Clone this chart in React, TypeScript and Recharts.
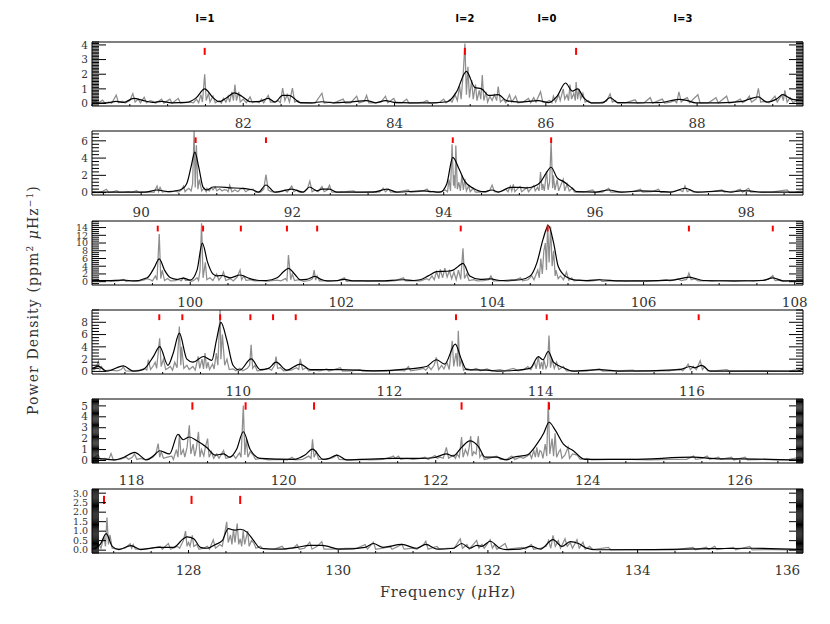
import React from 'react';
import { LineChart, Line, XAxis, YAxis, ReferenceLine } from 'recharts';

type Pt = [number, number];

// ---------------- data: raw spectrum (gray) ----------------
const p1Gray: Pt[] = [[80.00,0.05],[80.05,0.15],[80.08,0.02],[80.14,0.23],[80.17,0.03],[80.22,0.1],[80.26,0.02],[80.32,0.57],[80.35,0.05],[80.40,0.15],[80.44,0.03],[80.50,0.2],[80.54,0.68],[80.57,0.1],[80.61,0.3],[80.64,0.05],[80.69,0.42],[80.72,0.05],[80.77,0.2],[80.80,0.15],[80.84,0.02],[80.92,0.3],[80.95,0.03],[81.03,0.3],[81.06,0.02],[81.14,0.35],[81.17,0.03],[81.25,0.08],[81.30,0.1],[81.34,0.05],[81.38,0.3],[81.41,0.05],[81.44,0.6],[81.46,0.1],[81.49,2.0],[81.51,0.2],[81.54,0.7],[81.56,0.1],[81.60,0.5],[81.63,0.05],[81.68,0.2],[81.71,0.03],[81.74,0.35],[81.77,0.1],[81.80,0.5],[81.82,0.1],[81.85,0.8],[81.87,0.2],[81.89,1.3],[81.91,0.2],[81.94,0.8],[81.96,0.1],[82.00,0.3],[82.04,0.05],[82.09,0.45],[82.12,0.05],[82.17,0.15],[82.21,0.05],[82.24,0.3],[82.27,0.05],[82.33,0.55],[82.36,0.1],[82.41,0.1],[82.46,0.2],[82.49,0.05],[82.52,1.05],[82.55,0.2],[82.58,0.6],[82.61,0.1],[82.65,1.05],[82.68,0.1],[82.72,0.2],[82.76,0.03],[82.85,0.05],[82.95,0.03],[83.04,0.7],[83.07,0.03],[83.15,0.1],[83.20,0.05],[83.32,0.3],[83.35,0.02],[83.42,0.05],[83.50,0.5],[83.53,0.03],[83.60,0.15],[83.63,0.55],[83.66,0.05],[83.75,0.05],[83.82,0.1],[83.88,0.5],[83.91,0.05],[83.99,0.35],[84.02,0.03],[84.10,0.05],[84.16,0.3],[84.19,0.03],[84.30,0.05],[84.38,0.1],[84.43,0.2],[84.46,0.03],[84.55,0.05],[84.60,0.1],[84.65,0.3],[84.68,0.05],[84.73,0.25],[84.76,0.1],[84.80,0.6],[84.83,0.2],[84.86,1.2],[84.88,0.3],[84.91,2.2],[84.93,4.1],[84.95,0.6],[84.97,2.5],[84.99,0.4],[85.02,1.6],[85.04,0.3],[85.07,1.3],[85.09,0.2],[85.12,0.9],[85.14,0.3],[85.16,1.95],[85.18,0.2],[85.21,0.8],[85.23,0.1],[85.26,0.5],[85.29,0.2],[85.32,0.6],[85.35,0.2],[85.37,1.15],[85.40,0.1],[85.44,0.3],[85.47,0.05],[85.52,0.6],[85.55,0.1],[85.60,0.5],[85.63,0.05],[85.70,0.1],[85.77,0.35],[85.80,0.05],[85.84,0.4],[85.87,0.1],[85.93,0.8],[85.96,0.1],[86.00,0.1],[86.05,0.2],[86.08,0.05],[86.10,0.5],[86.13,0.1],[86.17,0.6],[86.19,0.2],[86.23,1.0],[86.25,0.3],[86.28,0.6],[86.30,0.2],[86.32,1.3],[86.34,0.3],[86.37,0.7],[86.39,0.2],[86.40,1.46],[86.42,0.3],[86.44,1.0],[86.46,0.3],[86.49,0.7],[86.52,0.1],[86.56,0.2],[86.60,0.03],[86.70,0.05],[86.80,0.15],[86.85,0.65],[86.88,0.1],[86.92,0.2],[86.95,0.03],[87.05,0.05],[87.18,0.25],[87.21,0.03],[87.30,0.05],[87.38,0.4],[87.41,0.03],[87.54,0.3],[87.57,0.03],[87.65,0.1],[87.70,0.2],[87.73,0.05],[87.76,0.8],[87.79,0.1],[87.83,0.3],[87.87,0.4],[87.90,0.05],[88.01,0.6],[88.04,0.03],[88.15,0.05],[88.25,0.4],[88.28,0.03],[88.39,0.5],[88.42,0.03],[88.50,0.1],[88.57,0.3],[88.60,0.05],[88.65,0.2],[88.69,0.5],[88.72,0.1],[88.78,0.3],[88.81,1.03],[88.84,0.1],[88.90,0.15],[88.95,0.05],[89.03,0.5],[89.06,0.1],[89.12,0.6],[89.14,0.2],[89.16,0.9],[89.19,0.1],[89.23,0.4],[89.27,0.05],[89.37,0.4],[89.40,0.1]];

const p2Gray: Pt[] = [[89.36,0.1],[89.42,0.02],[89.48,0.1],[89.54,0.38],[89.57,0.03],[89.62,0.08],[89.68,0.22],[89.71,0.02],[89.78,0.06],[89.84,0.12],[89.87,0.02],[89.94,0.22],[89.97,0.02],[90.05,0.05],[90.12,0.08],[90.17,0.03],[90.21,0.76],[90.23,0.1],[90.25,0.6],[90.28,0.05],[90.33,0.15],[90.38,0.05],[90.45,0.2],[90.49,0.05],[90.53,0.3],[90.56,0.76],[90.58,0.1],[90.60,0.3],[90.63,0.5],[90.66,0.2],[90.68,1.0],[90.70,7.1],[90.715,0.6],[90.73,5.5],[90.75,0.4],[90.77,1.5],[90.80,0.2],[90.83,0.5],[90.86,0.1],[90.87,0.5],[90.90,0.2],[90.93,0.6],[90.95,0.3],[90.98,0.65],[91.00,0.2],[91.04,0.45],[91.07,0.2],[91.10,0.35],[91.13,0.3],[91.15,0.1],[91.17,0.85],[91.20,0.1],[91.24,0.3],[91.28,0.1],[91.31,0.4],[91.35,0.5],[91.38,0.1],[91.42,0.3],[91.48,0.4],[91.51,0.05],[91.58,0.05],[91.62,0.4],[91.65,2.1],[91.68,0.3],[91.72,0.1],[91.77,0.03],[91.85,0.1],[91.90,0.3],[91.93,0.05],[91.99,0.76],[92.02,0.1],[92.06,0.3],[92.09,0.05],[92.15,0.05],[92.20,0.5],[92.23,1.33],[92.26,0.1],[92.30,0.3],[92.34,0.1],[92.39,0.7],[92.42,0.1],[92.46,0.3],[92.49,0.85],[92.52,0.05],[92.60,0.05],[92.70,0.1],[92.81,0.2],[92.84,0.02],[92.95,0.05],[93.07,0.1],[93.15,0.05],[93.20,0.5],[93.23,0.1],[93.27,0.4],[93.30,0.05],[93.40,0.08],[93.53,0.3],[93.56,0.03],[93.65,0.1],[93.73,0.2],[93.78,0.4],[93.81,0.05],[93.86,0.15],[93.90,0.03],[93.97,0.1],[94.02,0.3],[94.05,0.1],[94.07,1.5],[94.09,0.2],[94.11,5.6],[94.13,0.8],[94.14,2.0],[94.15,0.5],[94.16,5.45],[94.18,0.4],[94.20,1.2],[94.22,0.2],[94.24,2.0],[94.26,0.3],[94.28,1.6],[94.30,0.2],[94.33,0.8],[94.35,0.1],[94.39,0.5],[94.42,0.05],[94.50,0.08],[94.56,0.05],[94.61,0.3],[94.64,0.87],[94.67,0.1],[94.72,0.05],[94.78,0.2],[94.82,0.4],[94.85,0.1],[94.88,0.76],[94.90,0.2],[94.92,0.95],[94.94,0.1],[94.97,0.4],[95.01,0.7],[95.03,0.1],[95.06,0.3],[95.10,0.6],[95.12,0.1],[95.16,0.5],[95.19,0.8],[95.21,0.2],[95.24,0.6],[95.26,0.2],[95.28,2.37],[95.30,0.3],[95.31,1.0],[95.33,0.2],[95.36,2.5],[95.38,0.3],[95.40,1.2],[95.42,5.9],[95.44,0.5],[95.45,2.0],[95.47,0.3],[95.50,1.5],[95.52,0.2],[95.55,0.9],[95.58,1.52],[95.60,0.2],[95.63,1.0],[95.66,0.2],[95.70,0.5],[95.73,0.05],[95.85,0.05],[95.97,0.3],[96.00,0.03],[96.10,0.05],[96.18,0.5],[96.21,0.05],[96.35,0.05],[96.50,0.1],[96.60,0.4],[96.63,0.05],[96.75,0.1],[96.84,0.4],[96.87,0.03],[97.00,0.05],[97.12,0.3],[97.16,0.1],[97.19,0.76],[97.22,0.1],[97.26,0.3],[97.30,0.05],[97.45,0.05],[97.55,0.1],[97.68,0.3],[97.71,0.05],[97.80,0.1],[97.86,0.2],[97.92,0.4],[97.95,0.05],[98.03,0.5],[98.06,0.05],[98.20,0.05],[98.35,0.08],[98.54,0.3],[98.57,0.03],[98.65,0.05],[98.72,0.2],[98.75,0.05]];

const p3Gray: Pt[] = [[98.70,0.2],[98.78,0.5],[98.82,0.1],[98.9,0.3],[98.95,0.1],[99.05,0.2],[99.12,0.6],[99.15,0.1],[99.22,0.2],[99.3,0.1],[99.38,0.4],[99.43,0.8],[99.47,0.5],[99.5,0.2],[99.54,1.5],[99.56,0.4],[99.59,12.3],[99.61,0.8],[99.63,3.0],[99.66,0.3],[99.7,0.8],[99.74,0.2],[99.8,0.3],[99.85,0.6],[99.88,0.2],[99.91,1.0],[99.94,0.3],[99.98,0.4],[100.02,0.1],[100.06,0.5],[100.09,1.0],[100.11,0.3],[100.13,3.0],[100.15,15.1],[100.17,1.0],[100.2,5.0],[100.22,0.5],[100.26,1.0],[100.3,0.3],[100.35,2.0],[100.38,0.4],[100.42,1.5],[100.44,2.5],[100.47,0.3],[100.53,0.8],[100.57,0.2],[100.62,1.2],[100.66,3.0],[100.68,0.5],[100.71,1.5],[100.74,0.3],[100.79,0.5],[100.85,0.2],[100.92,0.3],[101.0,0.1],[101.08,0.3],[101.15,0.4],[101.2,0.2],[101.26,0.8],[101.28,0.3],[101.30,6.9],[101.33,0.5],[101.35,2.0],[101.38,0.3],[101.44,0.5],[101.5,0.1],[101.58,0.3],[101.62,0.8],[101.64,3.0],[101.66,0.4],[101.68,1.5],[101.71,0.2],[101.78,0.3],[101.85,0.1],[101.95,0.2],[102.04,1.0],[102.07,0.1],[102.15,0.2],[102.25,0.3],[102.35,0.1],[102.5,0.2],[102.6,0.1],[102.72,0.3],[102.82,1.0],[102.85,0.2],[102.95,0.3],[103.05,0.2],[103.13,0.8],[103.16,0.4],[103.2,1.5],[103.23,0.5],[103.26,2.6],[103.29,0.8],[103.31,3.2],[103.34,1.0],[103.37,3.5],[103.4,1.2],[103.43,2.8],[103.46,0.8],[103.49,2.5],[103.52,0.5],[103.55,3.0],[103.58,0.6],[103.61,8.66],[103.63,0.8],[103.66,2.0],[103.69,0.3],[103.75,0.5],[103.8,0.2],[103.88,0.3],[103.95,0.5],[103.98,1.5],[104.01,0.2],[104.1,0.3],[104.2,0.1],[104.3,0.4],[104.37,1.0],[104.4,0.2],[104.47,0.5],[104.52,1.5],[104.55,0.5],[104.6,3.0],[104.62,1.0],[104.64,6.0],[104.66,2.0],[104.68,8.0],[104.70,10.0],[104.715,3.0],[104.73,14.9],[104.75,5.0],[104.77,14.3],[104.79,4.0],[104.81,8.0],[104.83,1.5],[104.84,3.0],[104.87,0.8],[104.9,1.5],[104.94,0.5],[104.98,2.5],[105.01,0.4],[105.05,1.0],[105.08,0.2],[105.15,0.4],[105.25,0.1],[105.35,0.3],[105.42,0.6],[105.45,0.1],[105.55,0.2],[105.69,0.3],[105.75,0.05],[105.9,0.2],[106.05,0.1],[106.2,0.3],[106.3,0.5],[106.35,0.2],[106.45,0.7],[106.5,0.3],[106.57,0.6],[106.60,2.2],[106.63,0.5],[106.68,0.7],[106.72,0.2],[106.8,0.3],[106.9,0.1],[107.05,0.3],[107.2,0.1],[107.35,0.3],[107.45,0.1],[107.58,0.4],[107.65,0.6],[107.71,1.6],[107.74,0.3],[107.8,0.4],[107.85,0.1],[107.95,0.3],[108.05,0.1],[108.11,0.2]];

const p4Gray: Pt[] = [[108.07,0.3],[108.10,0.3],[108.13,1.0],[108.15,1.62],[108.17,0.3],[108.19,0.8],[108.22,0.1],[108.3,0.2],[108.4,0.1],[108.45,0.3],[108.48,0.7],[108.51,0.1],[108.6,0.05],[108.7,0.2],[108.76,0.5],[108.79,0.2],[108.81,1.9],[108.84,0.3],[108.88,1.0],[108.90,1.5],[108.92,0.5],[108.96,5.4],[108.98,0.8],[109.01,2.0],[109.04,0.3],[109.07,0.5],[109.1,0.8],[109.13,0.2],[109.16,1.5],[109.19,0.6],[109.22,7.3],[109.24,1.0],[109.25,4.0],[109.28,0.5],[109.32,1.0],[109.35,0.3],[109.4,0.8],[109.43,0.2],[109.47,2.43],[109.49,0.5],[109.52,2.0],[109.54,0.4],[109.56,2.97],[109.58,0.5],[109.6,1.5],[109.62,0.3],[109.66,1.2],[109.68,0.4],[109.71,3.0],[109.73,1.0],[109.76,10.2],[109.77,2.0],[109.79,6.0],[109.82,1.0],[109.85,2.0],[109.88,0.3],[109.93,0.4],[109.97,0.1],[110.02,0.5],[110.06,0.1],[110.12,0.5],[110.15,1.0],[110.17,4.32],[110.19,0.5],[110.22,1.0],[110.25,0.1],[110.32,0.2],[110.4,0.5],[110.44,0.2],[110.48,1.0],[110.50,2.43],[110.52,0.5],[110.56,0.6],[110.6,0.1],[110.7,0.2],[110.77,0.6],[110.8,0.3],[110.82,2.05],[110.85,0.3],[110.9,0.6],[110.93,0.1],[111.0,0.2],[111.08,0.1],[111.17,0.4],[111.2,0.05],[111.35,0.6],[111.38,0.05],[111.5,0.1],[111.61,0.3],[111.64,0.05],[111.8,0.1],[111.95,0.05],[112.1,0.2],[112.2,0.1],[112.25,0.8],[112.28,0.1],[112.38,0.3],[112.45,0.5],[112.48,0.2],[112.52,0.8],[112.55,0.3],[112.59,1.0],[112.62,2.27],[112.65,0.3],[112.69,1.0],[112.72,0.4],[112.76,1.5],[112.79,0.3],[112.83,4.97],[112.85,0.8],[112.88,3.0],[112.90,0.8],[112.91,6.6],[112.93,0.8],[112.95,2.0],[112.98,0.2],[113.02,0.5],[113.08,0.2],[113.15,0.5],[113.2,0.1],[113.29,0.4],[113.35,0.1],[113.46,0.3],[113.52,0.1],[113.64,0.5],[113.7,0.1],[113.78,0.3],[113.83,0.8],[113.87,0.3],[113.92,1.5],[113.94,0.4],[113.97,2.4],[113.99,0.4],[114.01,1.5],[114.03,0.3],[114.04,2.0],[114.07,0.5],[114.09,1.0],[114.11,5.83],[114.13,0.6],[114.15,2.0],[114.18,0.5],[114.21,1.5],[114.24,0.3],[114.3,0.8],[114.34,0.1],[114.43,0.1],[114.6,0.05],[114.78,0.4],[114.82,0.05],[115.0,0.1],[115.22,0.2],[115.25,0.05],[115.5,0.1],[115.7,0.1],[115.84,0.4],[115.88,0.1],[115.92,0.6],[115.95,1.2],[115.98,0.3],[116.02,0.8],[116.06,0.3],[116.11,1.73],[116.14,0.3],[116.17,0.8],[116.21,0.1],[116.3,0.1],[116.46,0.3],[116.5,0.05],[116.8,0.1],[117.1,0.05],[117.3,0.1],[117.4,0.3],[117.43,0.5],[117.47,0.3]];

const p5Gray: Pt[] = [[117.48,0.2],[117.52,0.3],[117.56,0.5],[117.59,0.1],[117.65,0.2],[117.7,0.1],[117.73,0.63],[117.76,0.05],[117.85,0.1],[117.93,0.3],[117.96,0.1],[118.01,0.3],[118.04,0.6],[118.07,0.1],[118.12,0.2],[118.18,0.05],[118.28,0.3],[118.32,0.6],[118.35,1.55],[118.37,0.3],[118.39,0.8],[118.42,0.2],[118.47,0.3],[118.53,0.4],[118.55,0.1],[118.59,1.0],[118.61,0.3],[118.63,2.39],[118.65,0.5],[118.68,1.0],[118.7,0.3],[118.73,1.2],[118.76,3.23],[118.78,0.6],[118.81,1.5],[118.83,0.4],[118.85,1.0],[118.88,2.63],[118.9,0.3],[118.92,1.0],[118.95,0.4],[118.97,1.2],[119.0,2.0],[119.02,0.3],[119.05,0.8],[119.08,0.2],[119.12,0.6],[119.15,0.2],[119.21,0.9],[119.24,0.2],[119.3,0.3],[119.34,0.5],[119.37,0.2],[119.42,0.7],[119.44,0.3],[119.47,5.03],[119.49,0.5],[119.51,2.0],[119.53,0.3],[119.56,0.8],[119.6,0.5],[119.63,0.1],[119.7,0.2],[119.8,0.05],[119.95,0.1],[120.05,0.05],[120.11,0.3],[120.15,0.05],[120.25,0.1],[120.33,0.4],[120.36,0.2],[120.38,1.94],[120.40,0.3],[120.43,0.8],[120.46,0.1],[120.55,0.1],[120.62,0.2],[120.66,0.3],[120.70,0.5],[120.73,0.1],[120.85,0.05],[121.0,0.1],[121.15,0.05],[121.3,0.1],[121.41,0.3],[121.44,0.4],[121.47,0.2],[121.51,0.4],[121.54,0.1],[121.62,0.2],[121.7,0.1],[121.8,0.2],[121.86,0.3],[121.9,0.1],[121.99,0.45],[122.02,0.2],[122.06,0.3],[122.1,0.2],[122.14,1.19],[122.17,0.2],[122.21,0.4],[122.23,0.5],[122.26,0.2],[122.28,0.6],[122.31,0.3],[122.34,2.15],[122.36,0.3],[122.39,1.0],[122.42,0.5],[122.44,1.2],[122.46,2.24],[122.48,0.4],[122.5,0.8],[122.53,0.6],[122.56,2.24],[122.58,0.3],[122.61,0.6],[122.64,0.1],[122.7,0.2],[122.8,0.4],[122.85,0.1],[122.93,0.1],[123.0,0.4],[123.04,0.1],[123.11,0.3],[123.15,0.2],[123.2,0.4],[123.24,0.6],[123.26,0.2],[123.29,0.9],[123.31,0.3],[123.33,1.2],[123.35,0.3],[123.37,0.9],[123.39,0.8],[123.41,0.2],[123.44,1.5],[123.46,0.4],[123.48,5.39],[123.50,0.6],[123.53,2.0],[123.55,0.4],[123.57,2.5],[123.59,0.3],[123.62,0.8],[123.64,1.0],[123.66,0.2],[123.7,0.5],[123.74,1.2],[123.76,0.2],[123.8,0.6],[123.86,0.5],[123.9,0.1],[123.99,0.2],[124.05,0.05],[124.3,0.1],[124.56,0.1],[124.8,0.05],[125.1,0.1],[125.3,0.1],[125.39,0.4],[125.42,0.1],[125.5,0.2],[125.57,0.4],[125.6,0.1],[125.72,0.3],[125.75,0.1],[125.89,0.3],[125.92,0.05],[126.07,0.3],[126.1,0.05],[126.3,0.1],[126.5,0.05],[126.65,0.1],[126.79,0.3],[126.83,0.1]];

const p6Gray: Pt[] = [[126.71,0.1],[126.76,0.05],[126.8,0.3],[126.83,0.1],[126.87,0.7],[126.89,0.2],[126.91,1.72],[126.93,0.3],[126.95,0.8],[126.98,0.1],[127.05,0.05],[127.15,0.1],[127.22,0.33],[127.24,0.1],[127.26,0.3],[127.29,0.05],[127.4,0.05],[127.5,0.1],[127.62,0.2],[127.65,0.05],[127.73,0.35],[127.76,0.05],[127.85,0.2],[127.88,0.1],[127.93,0.5],[127.96,1.0],[127.98,0.2],[128.0,0.4],[128.02,0.2],[128.05,0.78],[128.07,0.2],[128.11,0.3],[128.14,0.05],[128.2,0.1],[128.25,0.2],[128.28,0.05],[128.33,0.55],[128.36,0.1],[128.42,0.3],[128.45,0.2],[128.48,0.8],[128.51,1.49],[128.53,0.4],[128.56,0.8],[128.58,0.3],[128.60,1.1],[128.62,0.4],[128.65,1.4],[128.67,0.3],[128.69,0.6],[128.71,0.2],[128.73,1.0],[128.75,0.3],[128.79,1.0],[128.81,0.2],[128.84,0.5],[128.87,0.4],[128.9,0.1],[128.96,0.2],[129.0,0.05],[129.15,0.05],[129.25,0.2],[129.28,0.05],[129.4,0.1],[129.45,0.3],[129.48,0.05],[129.55,0.1],[129.62,0.42],[129.65,0.05],[129.72,0.2],[129.78,0.45],[129.81,0.05],[129.95,0.05],[130.1,0.1],[130.25,0.1],[130.36,0.3],[130.39,0.05],[130.47,0.42],[130.5,0.05],[130.6,0.1],[130.69,0.2],[130.72,0.05],[130.85,0.3],[130.88,0.05],[131.0,0.1],[131.05,0.05],[131.14,0.29],[131.17,0.47],[131.2,0.05],[131.32,0.2],[131.35,0.05],[131.45,0.1],[131.55,0.1],[131.63,0.6],[131.66,0.1],[131.72,0.3],[131.75,0.05],[131.85,0.51],[131.88,0.1],[131.92,0.3],[131.95,0.1],[132.03,0.55],[132.06,0.1],[132.09,0.3],[132.12,0.05],[132.23,0.35],[132.26,0.05],[132.35,0.1],[132.47,0.15],[132.5,0.05],[132.58,0.3],[132.61,0.05],[132.7,0.1],[132.78,0.2],[132.81,0.51],[132.84,0.1],[132.87,0.78],[132.9,0.2],[132.94,0.5],[132.97,0.1],[133.03,0.6],[133.06,0.2],[133.1,0.4],[133.13,0.1],[133.19,0.55],[133.22,0.1],[133.27,0.42],[133.3,0.05],[133.36,0.2],[133.4,0.03],[133.61,0.15],[133.64,0.02],[133.9,0.03],[134.2,0.03],[134.5,0.02],[134.74,0.15],[134.77,0.02],[134.92,0.15],[134.95,0.03],[135.03,0.2],[135.06,0.03],[135.28,0.15],[135.31,0.02],[135.5,0.2],[135.53,0.02],[135.8,0.03],[136.0,0.02],[136.21,0.05]];

// ---------------- data: smoothed spectrum (black) ----------------
const p1Smooth: Pt[] = [[80.0,0.03],[80.2,0.05],[80.32,0.15],[80.42,0.08],[80.55,0.35],[80.68,0.2],[80.8,0.08],[80.92,0.15],[81.05,0.05],[81.25,0.08],[81.38,0.4],[81.49,1.0],[81.6,0.4],[81.68,0.12],[81.78,0.4],[81.88,0.72],[81.98,0.5],[82.1,0.12],[82.22,0.15],[82.33,0.35],[82.42,0.1],[82.52,0.55],[82.6,0.55],[82.65,0.45],[82.75,0.06],[82.9,0.05],[83.04,0.12],[83.2,0.05],[83.4,0.1],[83.63,0.2],[83.75,0.05],[83.88,0.2],[84.0,0.08],[84.2,0.05],[84.5,0.05],[84.7,0.12],[84.82,0.8],[84.95,2.2],[85.06,1.1],[85.15,1.0],[85.25,0.55],[85.37,0.6],[85.48,0.2],[85.65,0.1],[85.9,0.2],[86.04,0.06],[86.15,0.5],[86.26,1.4],[86.35,0.85],[86.42,1.0],[86.5,0.4],[86.6,0.05],[86.75,0.05],[86.85,0.4],[86.95,0.06],[87.2,0.05],[87.5,0.06],[87.76,0.28],[87.87,0.2],[87.98,0.05],[88.3,0.05],[88.6,0.15],[88.69,0.3],[88.81,0.45],[88.92,0.1],[89.05,0.3],[89.13,0.6],[89.25,0.3],[89.4,0.2]];

const p2Smooth: Pt[] = [[89.35,0.05],[89.7,0.05],[90.05,0.05],[90.21,0.3],[90.35,0.12],[90.51,0.3],[90.6,1.0],[90.66,3.0],[90.71,4.7],[90.76,3.0],[90.82,0.6],[90.87,0.3],[90.95,0.65],[91.04,0.65],[91.17,0.55],[91.31,0.5],[91.48,0.3],[91.55,0.05],[91.65,0.88],[91.77,0.05],[91.9,0.25],[91.99,0.4],[92.14,0.05],[92.23,0.65],[92.32,0.2],[92.39,0.4],[92.49,0.4],[92.59,0.05],[93.07,0.05],[93.25,0.4],[93.38,0.05],[93.73,0.2],[93.86,0.1],[93.95,0.05],[94.04,1.0],[94.12,4.08],[94.2,2.8],[94.28,1.3],[94.39,0.5],[94.53,0.1],[94.64,0.3],[94.72,0.05],[94.88,0.6],[95.0,0.6],[95.1,0.55],[95.19,0.7],[95.28,1.2],[95.35,2.2],[95.42,2.94],[95.5,1.7],[95.58,1.3],[95.7,0.5],[95.76,0.1],[96.0,0.05],[96.18,0.3],[96.35,0.05],[96.6,0.2],[96.84,0.15],[97.0,0.05],[97.19,0.5],[97.35,0.05],[97.68,0.2],[97.8,0.05],[97.92,0.2],[98.03,0.2],[98.2,0.05],[98.54,0.05],[98.75,0.05]];

const p3Smooth: Pt[] = [[98.70,0.3],[98.9,0.25],[99.12,0.4],[99.25,0.2],[99.43,1.0],[99.52,3.5],[99.59,5.9],[99.66,3.0],[99.74,1.0],[99.82,0.6],[99.91,0.9],[100.0,0.4],[100.09,3.0],[100.16,9.95],[100.23,5.0],[100.3,2.0],[100.35,1.5],[100.42,1.6],[100.53,1.0],[100.66,1.73],[100.79,0.8],[100.92,0.3],[101.01,0.3],[101.15,1.0],[101.23,2.5],[101.30,3.46],[101.38,2.0],[101.46,0.5],[101.54,0.6],[101.65,1.35],[101.73,0.6],[101.81,0.2],[101.95,0.3],[102.04,0.6],[102.15,0.2],[102.25,0.2],[102.5,0.2],[102.82,0.5],[102.95,0.3],[103.04,0.5],[103.15,1.5],[103.26,2.6],[103.4,2.7],[103.48,3.0],[103.55,4.0],[103.61,4.76],[103.7,1.5],[103.84,0.6],[103.98,0.7],[104.1,0.3],[104.25,0.4],[104.37,0.5],[104.5,1.5],[104.59,5.0],[104.67,11.0],[104.74,14.5],[104.81,10.0],[104.87,4.0],[104.98,1.2],[105.11,0.4],[105.25,0.3],[105.42,0.5],[105.69,0.2],[106.0,0.2],[106.39,0.4],[106.6,1.2],[106.79,0.3],[107.2,0.2],[107.58,0.3],[107.71,1.0],[107.85,0.2],[108.11,0.2]];

const p4Smooth: Pt[] = [[108.07,0.5],[108.15,0.81],[108.26,0.05],[108.48,0.9],[108.61,0.05],[108.74,0.3],[108.88,2.5],[108.96,4.05],[109.07,1.0],[109.14,3.0],[109.22,6.22],[109.32,2.0],[109.4,1.5],[109.54,2.43],[109.65,1.8],[109.71,5.0],[109.77,8.0],[109.85,5.0],[109.93,1.0],[110.02,0.2],[110.17,2.05],[110.29,0.3],[110.4,0.5],[110.5,1.5],[110.64,0.2],[110.82,1.2],[110.95,0.3],[111.35,0.3],[111.79,0.1],[112.25,0.4],[112.49,0.8],[112.62,1.9],[112.73,1.2],[112.87,4.43],[112.95,2.0],[113.02,0.3],[113.29,0.2],[113.46,0.05],[113.64,0.15],[113.86,0.5],[113.97,2.4],[114.03,1.9],[114.1,3.24],[114.17,1.5],[114.3,0.6],[114.43,0.05],[114.78,0.3],[115.05,0.05],[115.84,0.3],[115.98,0.8],[116.04,0.6],[116.13,1.0],[116.24,0.05],[117.39,0.05],[117.47,0.4]];

const p5Smooth: Pt[] = [[117.48,0.2],[117.54,0.2],[117.76,0.05],[117.9,0.3],[118.04,0.74],[118.2,0.05],[118.3,0.5],[118.37,0.89],[118.5,0.6],[118.61,2.39],[118.68,1.9],[118.76,2.15],[118.86,1.8],[118.99,1.19],[119.1,0.5],[119.21,0.6],[119.29,0.3],[119.38,1.0],[119.47,2.63],[119.56,1.0],[119.69,0.2],[120.13,0.1],[120.28,0.5],[120.38,1.04],[120.52,0.1],[120.6,0.2],[120.7,0.5],[120.83,0.05],[121.44,0.2],[121.79,0.2],[121.97,0.25],[122.14,0.6],[122.23,0.4],[122.34,1.2],[122.45,1.79],[122.56,1.3],[122.65,0.3],[122.8,0.3],[122.93,0.05],[123.02,0.3],[123.2,0.5],[123.33,1.5],[123.42,2.5],[123.49,3.5],[123.57,2.8],[123.68,1.5],[123.81,0.9],[123.96,0.1],[124.56,0.1],[125.39,0.3],[125.74,0.15],[126.0,0.15],[126.79,0.05],[126.83,0.1]];

const p6Smooth: Pt[] = [[126.71,0.05],[126.82,0.3],[126.9,0.87],[126.98,0.2],[127.07,0.03],[127.23,0.24],[127.36,0.03],[127.6,0.15],[127.8,0.15],[127.93,0.6],[127.98,0.7],[128.07,0.6],[128.16,0.15],[128.25,0.1],[128.36,0.3],[128.45,0.5],[128.53,1.13],[128.62,1.05],[128.69,1.1],[128.78,0.95],[128.87,0.5],[128.96,0.1],[129.22,0.05],[129.45,0.15],[129.62,0.25],[129.78,0.25],[130.03,0.05],[130.36,0.15],[130.47,0.35],[130.6,0.15],[130.85,0.3],[131.05,0.1],[131.17,0.3],[131.32,0.05],[131.54,0.1],[131.65,0.35],[131.76,0.1],[131.85,0.25],[131.92,0.2],[132.03,0.47],[132.16,0.1],[132.25,0.03],[132.43,0.05],[132.58,0.2],[132.7,0.05],[132.87,0.55],[132.99,0.2],[133.1,0.45],[133.21,0.35],[133.32,0.1],[133.45,0.02],[134.21,0.03],[135.01,0.08],[135.5,0.1],[136.21,0.03]];

// ---------------- data: mode frequencies (red marks) ----------------
const p1Modes = [81.49, 84.93, 86.40];
const p2Modes = [90.72, 91.65, 94.12, 95.42];
const p3Modes = [99.57, 100.17, 100.67, 101.28, 101.68, 103.58, 104.73, 106.60, 107.71];
const p4Modes = [108.955, 109.26, 109.76, 110.16, 110.46, 110.76, 112.88, 114.08, 116.09];
const p5Modes = [118.80, 119.50, 120.40, 122.34, 123.49];
const p6Modes = [126.87, 128.04, 128.69];

// ---------------- tick labels ----------------
const p1XLabels = [82, 84, 86, 88];
const p2XLabels = [90, 92, 94, 96, 98];
const p3XLabels = [100, 102, 104, 106, 108];
const p4XLabels = [110, 112, 114, 116];
const p5XLabels = [118, 120, 122, 124, 126];
const p6XLabels = [128, 130, 132, 134, 136];

const p1YLabels = [0, 1, 2, 3, 4];
const p2YLabels = [0, 2, 4, 6];
const p3YLabels = [0, 2, 4, 6, 8, 10, 12, 14];
const p4YLabels = [0, 2, 4, 6, 8];
const p5YLabels = [0, 1, 2, 3, 4, 5];
const p6YLabels = [0, 0.5, 1, 1.5, 2, 2.5, 3];

const degreeLabels = ['l=1', 'l=2', 'l=0', 'l=3'];

// ---------------- layout (positions / styles) ----------------
const PLOT_H = 64;
const TOP_AX = 4;
const BOT_AX = 26;

interface PanelCfg {
  gray: Pt[]; smooth: Pt[]; modes: number[]; xLabels: number[]; yLabels: number[];
  top: number; xDomain: [number, number]; yDomain: [number, number];
  yMinor: number; dec: number; mark: [number, number]; yFont: number;
}

const panels: PanelCfg[] = [
  { gray: p1Gray, smooth: p1Smooth, modes: p1Modes, xLabels: p1XLabels, yLabels: p1YLabels, top: 42, xDomain: [80.0, 89.4], yDomain: [-0.17, 4.2], yMinor: 0.1, dec: 0, mark: [3.32, 3.8], yFont: 10.5 },
  { gray: p2Gray, smooth: p2Smooth, modes: p2Modes, xLabels: p2XLabels, yLabels: p2YLabels, top: 131, xDomain: [89.35, 98.75], yDomain: [-0.28, 7.14], yMinor: 0.4, dec: 0, mark: [5.75, 6.4], yFont: 10.5 },
  { gray: p3Gray, smooth: p3Smooth, modes: p3Modes, xLabels: p3XLabels, yLabels: p3YLabels, top: 221, xDomain: [98.7, 108.11], yDomain: [-0.86, 15.7], yMinor: 0.5, dec: 0, mark: [13.0, 14.5], yFont: 9.5 },
  { gray: p4Gray, smooth: p4Smooth, modes: p4Modes, xLabels: p4XLabels, yLabels: p4YLabels, top: 310, xDomain: [108.065, 117.47], yDomain: [-0.42, 10.0], yMinor: 0.5, dec: 0, mark: [8.35, 9.3], yFont: 10.5 },
  { gray: p5Gray, smooth: p5Smooth, modes: p5Modes, xLabels: p5XLabels, yLabels: p5YLabels, top: 399, xDomain: [117.48, 126.83], yDomain: [-0.23, 5.63], yMinor: 0.1, dec: 0, mark: [4.65, 5.33], yFont: 10.5 },
  { gray: p6Gray, smooth: p6Smooth, modes: p6Modes, xLabels: p6XLabels, yLabels: p6YLabels, top: 489, xDomain: [126.71, 136.21], yDomain: [-0.15, 3.22], yMinor: 0.05, dec: 1, mark: [2.43, 2.86], yFont: 9.5 },
];

const degreeX = [205, 465, 547, 683];

const FONT = '"DejaVu Serif", "Liberation Serif", serif';

function stepTicks(lo: number, hi: number, step: number): number[] {
  const out: number[] = [];
  for (let k = Math.ceil(lo / step - 1e-9); k * step <= hi + 1e-9; k++) out.push(Number((k * step).toFixed(4)));
  return out;
}

const isIn = (list: number[], v: number) => list.some((m) => Math.abs(m - v) < 1e-6);

function makeYTick(side: 'left' | 'right', labels: number[], dec: number, fs: number) {
  return (props: any) => {
    const { x, y, payload } = props;
    const v = payload.value as number;
    const major = isIn(labels, v);
    const len = major ? 14 : 7;
    const x2 = side === 'left' ? x + len : x - len;
    return (
      <g>
        <line x1={x} y1={y} x2={x2} y2={y} stroke="#000" strokeWidth={1} />
        {side === 'left' && major ? (
          <text x={x - 4} y={y + fs * 0.35} textAnchor="end" fontFamily={FONT} fontSize={fs} fill="#333">
            {v.toFixed(dec)}
          </text>
        ) : null}
      </g>
    );
  };
}

function makeXTick(side: 'top' | 'bottom', labels: number[]) {
  return (props: any) => {
    const { x, y, payload } = props;
    const v = payload.value as number;
    const major = isIn(labels, v);
    const len = major ? 3 : 2;
    const y2 = side === 'bottom' ? y - len : y + len;
    return (
      <g>
        <line x1={x} y1={y} x2={x} y2={y2} stroke="#000" strokeWidth={1} />
        {side === 'bottom' && major ? (
          <text x={x} y={y + 22} textAnchor="middle" fontFamily={FONT} fontSize={13.5} fill="#333">
            {String(v)}
          </text>
        ) : null}
      </g>
    );
  };
}

function Panel({ cfg }: { cfg: PanelCfg }) {
  const grayData = cfg.gray.map(([f, p]) => ({ f, p }));
  const smoothData = cfg.smooth.map(([f, p]) => ({ f, p }));
  const xTicks = stepTicks(cfg.xDomain[0], cfg.xDomain[1], 0.5);
  const yTicks = stepTicks(cfg.yDomain[0], cfg.yDomain[1], cfg.yMinor);
  return (
    <div style={{ position: 'absolute', left: 0, top: cfg.top - TOP_AX }}>
      <LineChart width={830} height={TOP_AX + PLOT_H + BOT_AX} margin={{ top: 0, right: 0, bottom: 0, left: 0 }}>
        <XAxis xAxisId="b" orientation="bottom" type="number" dataKey="f" domain={cfg.xDomain} allowDataOverflow
          ticks={xTicks} interval={0} tickSize={0} tickMargin={0} tickLine={false} height={BOT_AX}
          axisLine={{ stroke: '#000' }} tick={makeXTick('bottom', cfg.xLabels)} />
        <XAxis xAxisId="t" orientation="top" type="number" domain={cfg.xDomain} allowDataOverflow
          ticks={xTicks} interval={0} tickSize={0} tickMargin={0} tickLine={false} height={TOP_AX}
          axisLine={{ stroke: '#000' }} tick={makeXTick('top', cfg.xLabels)} />
        <YAxis yAxisId="l" orientation="left" type="number" domain={cfg.yDomain} allowDataOverflow width={92}
          ticks={yTicks} interval={0} tickSize={0} tickMargin={0} tickLine={false}
          axisLine={{ stroke: '#000' }} tick={makeYTick('left', cfg.yLabels, cfg.dec, cfg.yFont)} />
        <YAxis yAxisId="r" orientation="right" type="number" domain={cfg.yDomain} allowDataOverflow width={27}
          ticks={yTicks} interval={0} tickSize={0} tickMargin={0} tickLine={false}
          axisLine={{ stroke: '#000' }} tick={makeYTick('right', cfg.yLabels, cfg.dec, cfg.yFont)} />
        <Line xAxisId="b" yAxisId="l" data={grayData} dataKey="p" type="linear" stroke="#8e8e8e"
          strokeWidth={1.25} dot={false} activeDot={false} isAnimationActive={false} />
        <Line xAxisId="b" yAxisId="l" data={smoothData} dataKey="p" type="monotone" stroke="#000000"
          strokeWidth={1.2} dot={false} activeDot={false} isAnimationActive={false} />
        {cfg.modes.map((f, i) => (
          <ReferenceLine key={i} xAxisId="b" yAxisId="l"
            segment={[{ x: f, y: cfg.mark[0] }, { x: f, y: cfg.mark[1] }]}
            stroke="#ff0000" strokeWidth={2} />
        ))}
      </LineChart>
    </div>
  );
}

export default function App() {
  return (
    <div style={{ position: 'absolute', left: 0, top: 0, width: 830, height: 624, background: '#fff', overflow: 'hidden' }}>
      <svg width={830} height={624} style={{ position: 'absolute', left: 0, top: 0 }}>
        {degreeLabels.map((t, i) => (
          <text key={t + i} x={degreeX[i]} y={22} textAnchor="middle" fontFamily='"DejaVu Sans", sans-serif' fontSize={10} fontWeight={600} fill="#000">
            {t}
          </text>
        ))}
        <text x={448} y={597} textAnchor="middle" fontFamily={FONT} fontSize={14.5} letterSpacing={0.8} fill="#333">
          Frequency (<tspan fontStyle="italic">μ</tspan>Hz)
        </text>
        <text transform="translate(38,300) rotate(-90)" textAnchor="middle" fontFamily={FONT} fontSize={14} letterSpacing={1.1} fill="#333">
          Power Density (ppm<tspan dy={-5} fontSize={9}>2</tspan><tspan dy={5}> </tspan><tspan fontStyle="italic">μ</tspan>Hz<tspan dy={-5} fontSize={9}>−1</tspan><tspan dy={5}>)</tspan>
        </text>
      </svg>
      {panels.map((cfg, i) => (
        <Panel key={i} cfg={cfg} />
      ))}
    </div>
  );
}
